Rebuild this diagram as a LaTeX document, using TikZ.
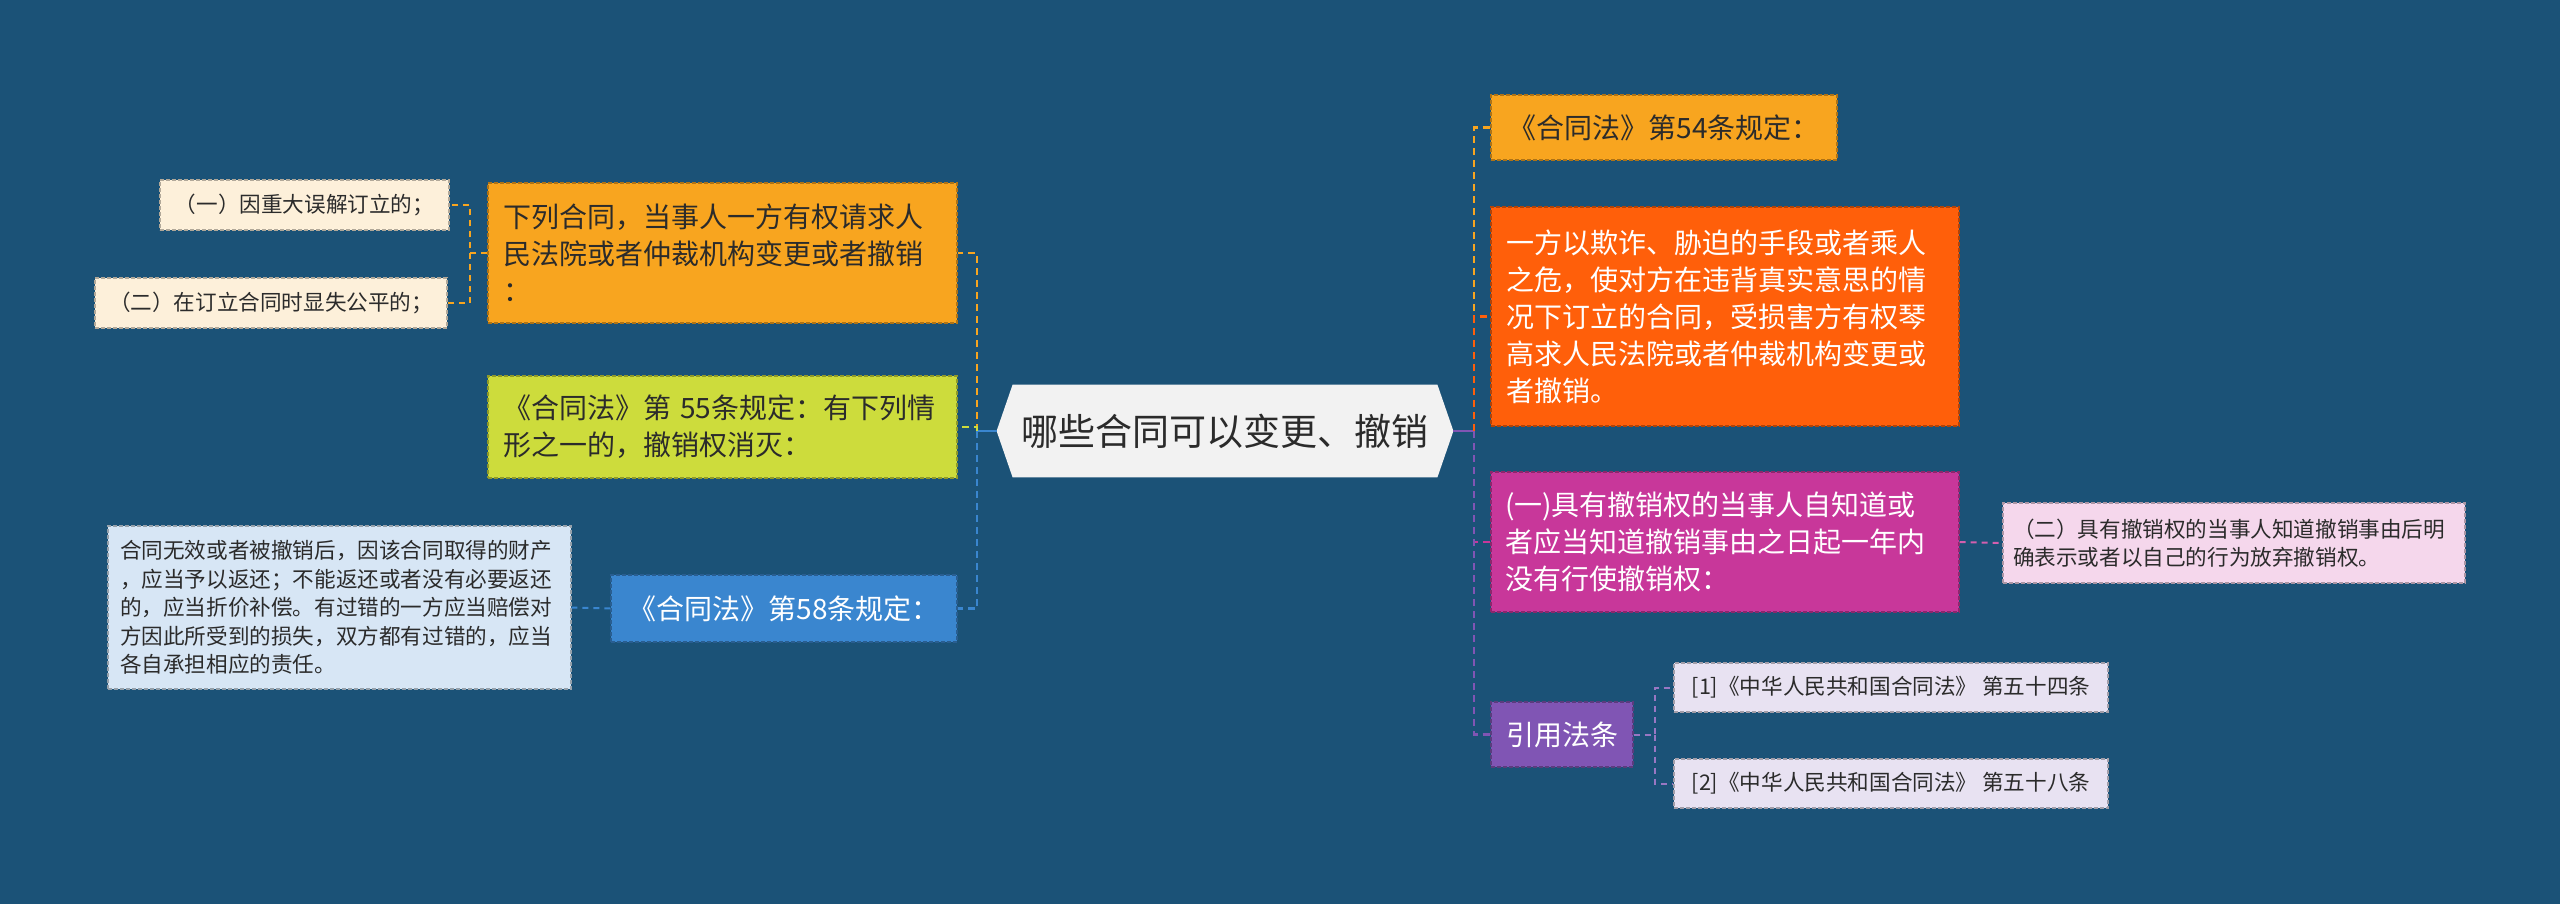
\documentclass[tikz,border=0pt]{standalone}
\usepackage{fontspec}
\setmainfont{Noto Sans CJK SC}
\definecolor{bgc}{HTML}{1B5277}
\definecolor{txt}{HTML}{2B2B2B}
\definecolor{hubc}{HTML}{F2F2F2}
\definecolor{cA}{HTML}{F8A51F}
\definecolor{cAl}{HTML}{FDF0DA}
\definecolor{cB}{HTML}{CDDC3C}
\definecolor{cC}{HTML}{3A86CF}
\definecolor{cCl}{HTML}{D7E6F5}
\definecolor{cE}{HTML}{FF5F0A}
\definecolor{cF}{HTML}{C8379A}
\definecolor{cFl}{HTML}{F5D7EC}
\definecolor{cG}{HTML}{8055B4}
\definecolor{cGl}{HTML}{E8E2F2}
\pgfdeclarelayer{under}
\pgfsetlayers{under,main}
\tikzset{
  bx/.style={fill=#1, draw=#1!70!black, dash pattern=on 2pt off 1pt, line width=0.6pt, inner ysep=0pt},
  midf/.style={font=\fontsize{14}{18.5}\selectfont},
  leaff/.style={font=\fontsize{10.8}{14.3}\selectfont},
  cn/.style={draw=#1, line width=1.25pt, dash pattern=on 3.5pt off 2.5pt},
  cl/.style={draw=#1, line width=1pt, dash pattern=on 3pt off 2.5pt},
  stub/.style={draw=#1, line width=1.25pt}
}
\begin{document}
\begin{tikzpicture}[x=0.5pt,y=-0.5pt]
\begin{pgfonlayer}{under}
\fill[bgc] (0,0) rectangle (2560,904);
\end{pgfonlayer}
\useasboundingbox (0,0) rectangle (2560,904);

% hub
\node[minimum width=228pt, minimum height=46pt, inner sep=0pt, text=txt,
      font=\fontsize{18.5}{22}\selectfont] (hub) at (1225,431) {哪些合同可以变更、撤销};
\begin{pgfonlayer}{under}
\fill[hubc] (hub.west) -- ([xshift=8pt]hub.north west) -- ([xshift=-8pt]hub.north east)
  -- (hub.east) -- ([xshift=-8pt]hub.south east) -- ([xshift=8pt]hub.south west) -- cycle;
\end{pgfonlayer}

% left side
\node[bx=cA, midf, text=txt, minimum width=234.5pt, minimum height=70pt, inner xsep=7.5pt,
      text width=219.5pt, align=left] (A) at (722.5,253)
  {下列合同，当事人一方有权请求人\\民法院或者仲裁机构变更或者撤销\\：};
\node[bx=cAl, leaff, text=txt, minimum width=144.5pt, minimum height=25pt, inner xsep=0pt] (a1) at (304.5,205)
  {（一）因重大误解订立的；};
\node[bx=cAl, leaff, text=txt, minimum width=176pt, minimum height=25pt, inner xsep=0pt] (a2) at (271,303)
  {（二）在订立合同时显失公平的；};
\node[bx=cB, midf, text=txt, minimum width=234.5pt, minimum height=51pt, inner xsep=7.5pt,
      text width=219.5pt, align=left] (B) at (722.5,427)
  {《合同法》第 55条规定：有下列情\\形之一的，撤销权消灭：};
\node[bx=cC, midf, text=white, minimum width=173pt, minimum height=33.5pt, inner xsep=0pt] (C) at (784,608.5)
  {《合同法》第58条规定：};
\node[bx=cCl, leaff, text=txt, minimum width=231.5pt, minimum height=81.5pt, inner xsep=6pt,
      text width=219.5pt, align=left] (c1) at (339.5,607.5)
  {合同无效或者被撤销后，因该合同取得的财产\\，应当予以返还；不能返还或者没有必要返还\\的，应当折价补偿。有过错的一方应当赔偿对\\方因此所受到的损失，双方都有过错的，应当\\各自承担相应的责任。};

% right side
\node[bx=cA, midf, text=txt, minimum width=173pt, minimum height=32.5pt, inner xsep=0pt] (D) at (1664,127.5)
  {《合同法》第54条规定：};
\node[bx=cE, midf, text=white, minimum width=234pt, minimum height=109.5pt, inner xsep=7.5pt,
      text width=219pt, align=left] (E) at (1725,316.5)
  {一方以欺诈、胁迫的手段或者乘人\\之危，使对方在违背真实意思的情\\况下订立的合同，受损害方有权琴\\高求人民法院或者仲裁机构变更或\\者撤销。};
\node[bx=cF, midf, text=white, minimum width=234pt, minimum height=70pt, inner xsep=7pt,
      text width=220pt, align=left] (F) at (1725,542)
  {(一)具有撤销权的当事人自知道或\\者应当知道撤销事由之日起一年内\\没有行使撤销权：};
\node[bx=cFl, leaff, text=txt, minimum width=231pt, minimum height=40pt, inner xsep=5pt,
      text width=221pt, align=left] (f1) at (2234,543)
  {（二）具有撤销权的当事人知道撤销事由后明\\确表示或者以自己的行为放弃撤销权。};
\node[bx=cG, midf, text=white, minimum width=71pt, minimum height=32.5pt, inner xsep=0pt] (G) at (1562,734.5)
  {引用法条};
\node[bx=cGl, leaff, text=txt, minimum width=217pt, minimum height=24.5pt, inner xsep=0pt] (g1) at (1891,687.5)
  {[1]《中华人民共和国合同法》 第五十四条};
\node[bx=cGl, leaff, text=txt, minimum width=217pt, minimum height=24.5pt, inner xsep=0pt] (g2) at (1891,783.5)
  {[2]《中华人民共和国合同法》 第五十八条};

% junction points
\coordinate (hubL) at (977,431);
\coordinate (hubR) at (1474,431);
\coordinate (jA) at (470,253);
\coordinate (jG) at (1655,734.5);

% connectors left
\draw[stub=cC] (hub.west) -- (hubL);
\draw[cn=cA] (hubL) |- (A.east);
\draw[cn=cC] (hubL) |- (C.east);
\draw[cn=cB] (hubL) |- (B.east);
\draw[cl=cA] (A.west) -- (jA) |- (a1.east);
\draw[cl=cA] (jA) |- (a2.east);
\draw[cl=cC] (C.west) -- (c1.east);

% connectors right
\draw[stub=cG] (hub.east) -- (hubR);
\draw[cn=cA] (hubR) |- (D.west);
\draw[cn=cE] (hubR) |- (E.west);
\draw[cn=cF] (hubR) |- (F.west);
\draw[cn=cG] (hubR) |- (G.west);
\draw[cl=cF!80!white] (F.east) -- (f1.west);
\draw[cl=cG!80!white] (G.east) -- (jG) |- (g1.west);
\draw[cl=cG!80!white] (jG) |- (g2.west);
\end{tikzpicture}
\end{document}
